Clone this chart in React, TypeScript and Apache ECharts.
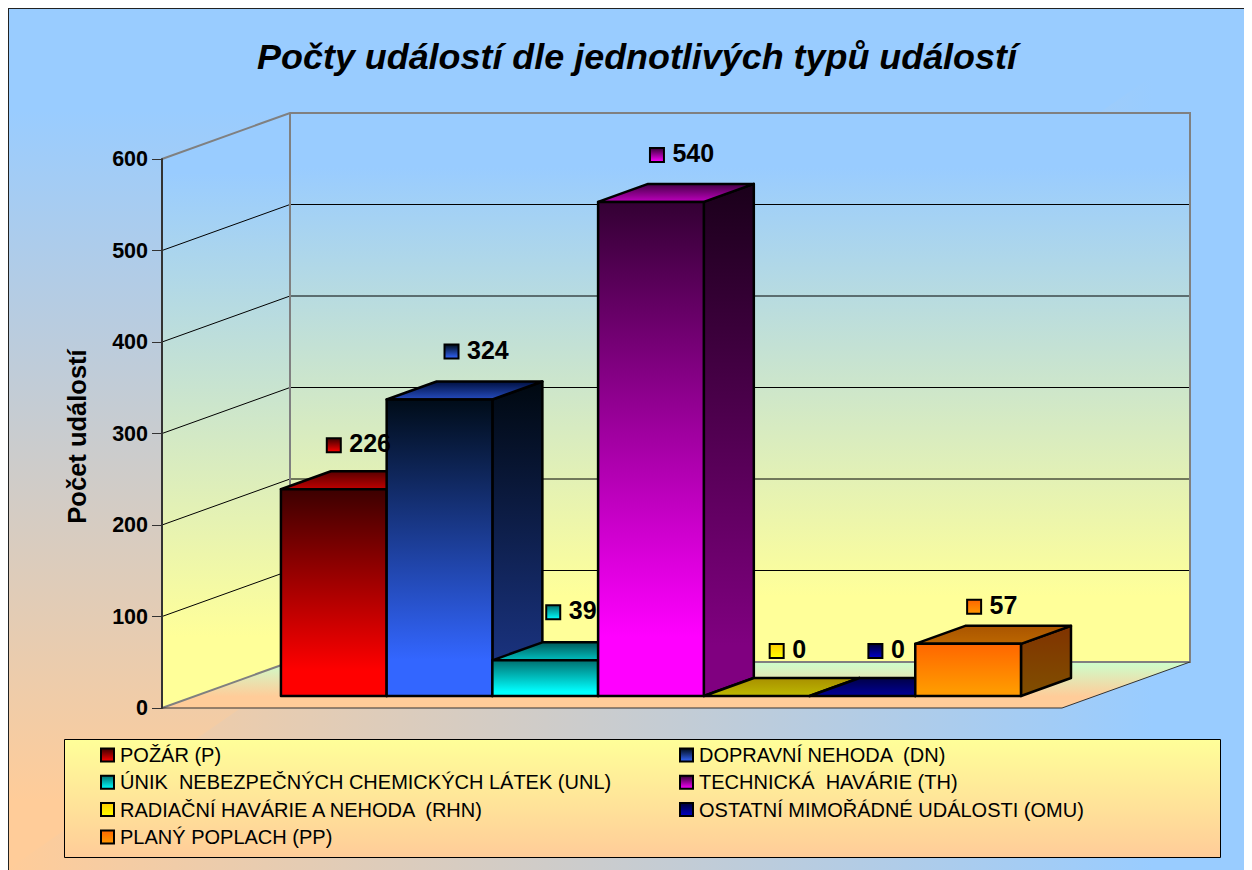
import React, { useEffect, useRef } from "react";
import * as echarts from "echarts";

const seriesNames = [
  "POŽÁR (P)",
  "DOPRAVNÍ NEHODA  (DN)",
  "ÚNIK  NEBEZPEČNÝCH CHEMICKÝCH LÁTEK (UNL)",
  "TECHNICKÁ  HAVÁRIE (TH)",
  "RADIAČNÍ HAVÁRIE A NEHODA  (RHN)",
  "OSTATNÍ MIMOŘÁDNÉ UDÁLOSTI (OMU)",
  "PLANÝ POPLACH (PP)",
];
const seriesValues = [226, 324, 39, 540, 0, 0, 57];
const yTicks = [100, 200, 300, 400, 500];

const frontColors = [
  ["#3c0000", "#ff0000"],
  ["#000c18", "#3366ff"],
  ["#007070", "#00ffff"],
  ["#330033", "#ff00ff"],
  ["#ffcc00", "#ffff00"],
  ["#000033", "#0000cc"],
  ["#ff6600", "#ff9900"],
];
const sideColors = [
  ["#1e0000", "#800000"],
  ["#000810", "#1a3380"],
  ["#003838", "#008080"],
  ["#1a001a", "#800080"],
  ["#806600", "#808000"],
  ["#00001a", "#000066"],
  ["#803300", "#804c00"],
];
const topColors = [
  ["#590000", "#bf0000"],
  ["#001040", "#264cbf"],
  ["#005959", "#00bfbf"],
  ["#440044", "#bf00bf"],
  ["#a89000", "#bdb800"],
  ["#000047", "#000099"],
  ["#aa5500", "#bb6600"],
];
// label nudges relative to each bar's centre/top (dx, dy of the key square)
const labelNudgeX = [0, 12, 8, 6, 20, 13, 6];
const labelNudgeY = [-44, -48, -48, -47, -45, -45, -37];

const OX = 7;
const WIDTH = 1245;
const HEIGHT = 863;
const GRID = { left: 162 - OX, top: 159 - OX, width: 900, height: 549 };
const X_MIN = -1.625;
const X_MAX = 6.888;
const Y_MAX = 600;
const WALL_DX = 128;
const WALL_DY = -46;
const BAR_DX = 50;
const BAR_DY = -18;
const BAR_LIFT = 12;
const FONT = '"Liberation Sans", Arial, sans-serif';

const vGrad = (stops: [number, string][]) =>
  new echarts.graphic.LinearGradient(0, 0, 0, 1, stops.map(([offset, color]) => ({ offset, color })));
const hGrad = (stops: [number, string][]) =>
  new echarts.graphic.LinearGradient(0, 0, 1, 0, stops.map(([offset, color]) => ({ offset, color })));

const BLUE = "#99ccff";
const PEACH = "#ffcc99";
const YELLOW = "#ffff99";

const wallFill = () => vGrad([[0, BLUE], [0.1, BLUE], [0.88, YELLOW], [1, YELLOW]]);

const renderWalls = (_p: any, api: any) => {
  const fl = api.coord([X_MIN, 0]);
  const fr = api.coord([X_MAX, 0]);
  const tl = api.coord([X_MIN, Y_MAX]);
  const back = (p: number[]) => [p[0] + WALL_DX, p[1] + WALL_DY];
  const bl = back(fl);
  const br = back(fr);
  const btl = back(tl);
  const btr = back(api.coord([X_MAX, Y_MAX]));
  const gray = { stroke: "#808080", lineWidth: 2, fill: "none" };
  const children: any[] = [
    { type: "polygon", shape: { points: [btl, btr, br, bl] }, style: { fill: wallFill() } },
    { type: "polygon", shape: { points: [tl, btl, bl, fl] }, style: { fill: wallFill() } },
    {
      type: "polygon",
      shape: { points: [fl, bl, br, fr] },
      style: { fill: vGrad([[0, "#ccffcc"], [0.75, PEACH], [1, PEACH]]) },
    },
  ];
  yTicks.forEach((t) => {
    const a = api.coord([X_MIN, t]);
    const b = back(a);
    const c = back(api.coord([X_MAX, t]));
    children.push({
      type: "polyline",
      shape: { points: [a, b, c] },
      style: { stroke: "#000", lineWidth: 1, fill: "none" },
    });
  });
  children.push(
    { type: "polyline", shape: { points: [tl, btl, btr, br, bl, btl] }, style: gray },
    { type: "line", shape: { x1: fl[0], y1: fl[1], x2: bl[0], y2: bl[1] }, style: gray },
    { type: "polyline", shape: { points: [fl, fr, br] }, style: { stroke: "#333", lineWidth: 1, fill: "none" } },
  );
  return { type: "group", children };
};

const makeBarRenderer = (s: number) => (_p: any, api: any) => {
  const i = api.value(0);
  const v = api.value(1);
  const w = api.size([1, 0])[0];
  const base = api.coord([i, 0]);
  const top = api.coord([i, v]);
  const x0 = base[0] - w / 2;
  const x1 = base[0] + w / 2;
  const yb = base[1] - BAR_LIFT;
  const yt = top[1] - BAR_LIFT;
  const line = { stroke: "#000", lineWidth: 2.5, lineJoin: "round" };
  const children: any[] = [
    {
      type: "polygon",
      shape: { points: [[x1, yb], [x1, yt], [x1 + BAR_DX, yt + BAR_DY], [x1 + BAR_DX, yb + BAR_DY]] },
      style: { ...line, fill: vGrad([[0, sideColors[s][0]], [0.9, sideColors[s][1]], [1, sideColors[s][1]]]) },
    },
    {
      type: "polygon",
      shape: { points: [[x0, yt], [x1, yt], [x1 + BAR_DX, yt + BAR_DY], [x0 + BAR_DX, yt + BAR_DY]] },
      style: { ...line, fill: vGrad([[0, topColors[s][0]], [1, topColors[s][1]]]) },
    },
  ];
  if (v > 0) {
    children.push({
      type: "polygon",
      shape: { points: [[x0, yt], [x1, yt], [x1, yb], [x0, yb]] },
      style: { ...line, fill: vGrad([[0, frontColors[s][0]], [0.88, frontColors[s][1]], [1, frontColors[s][1]]]) },
    });
  }
  return { type: "group", children };
};

const renderLabel = (_p: any, api: any) => {
  const s = api.value(0);
  const v = api.value(1);
  const top = api.coord([s, v]);
  const cx = top[0] + labelNudgeX[s];
  const cy = top[1] - BAR_LIFT + labelNudgeY[s];
  return {
    type: "group",
    children: [
      {
        type: "rect",
        shape: { x: cx - 7, y: cy - 7, width: 14, height: 14 },
        style: { stroke: "#000", lineWidth: 2, fill: vGrad([[0, frontColors[s][0]], [1, frontColors[s][1]]]) },
      },
      {
        type: "text",
        style: {
          x: cx + 15.5,
          y: cy - 2,
          text: String(v),
          fill: "#000",
          fontFamily: FONT,
          fontWeight: "bold",
          fontSize: 25,
          align: "left",
          verticalAlign: "middle",
        },
      },
    ],
  };
};

const legendItem = (s: number) => ({
  name: seriesNames[s],
  icon: "rect",
  itemStyle: {
    color: vGrad([[0, frontColors[s][0]], [1, frontColors[s][1]]]),
    borderColor: "#000",
    borderWidth: 2,
  },
});

const legendBase = {
  orient: "vertical",
  selectedMode: false,
  itemWidth: 13,
  itemHeight: 13,
  itemGap: 7.3,
  textStyle: { fontFamily: FONT, fontSize: 20, color: "#000", lineHeight: 20, padding: [0, 0, 0, 1] },
  padding: 0,
};

const buildOption = () => ({
  animation: false,
  title: {
    text: "Počty událostí dle jednotlivých typů událostí",
    left: 637 - OX,
    top: 39 - OX,
    textAlign: "center",
    textStyle: { fontFamily: FONT, fontSize: 35.9, fontWeight: "bold", fontStyle: "italic", color: "#000" },
    padding: 0,
  },
  grid: GRID,
  xAxis: { type: "value", min: X_MIN, max: X_MAX, show: false },
  yAxis: {
    type: "value",
    min: 0,
    max: Y_MAX,
    interval: 100,
    z: 5,
    name: "Počet událostí",
    nameLocation: "middle",
    nameGap: 72,
    nameRotate: 90,
    nameTextStyle: { fontFamily: FONT, fontSize: 25.5, fontWeight: "bold", color: "#000", padding: [0, 6, 0, 0] },
    axisLine: { show: true, onZero: false, lineStyle: { color: "#333", width: 2 } },
    axisTick: { show: true, length: 10, lineStyle: { color: "#333", width: 1 } },
    axisLabel: { fontFamily: FONT, fontSize: 21.5, fontWeight: "bold", color: "#000", margin: 14 },
    splitLine: { show: false },
  },
  legend: [
    { ...legendBase, left: 100 - OX, top: 745 - OX, data: [0, 2, 4, 6].map(legendItem) },
    { ...legendBase, left: 679 - OX, top: 745 - OX, data: [1, 3, 5].map(legendItem) },
  ],
  graphic: [
    { type: "rect", z: -5, shape: { x: 0, y: 0, width: WIDTH, height: HEIGHT }, style: { fill: vGrad([[0, BLUE], [0.12, BLUE], [0.92, PEACH], [1, PEACH]]) } },
    {
      type: "polygon",
      z: -4,
      shape: { points: [[0, HEIGHT], [WIDTH, 0], [WIDTH, HEIGHT]] },
      style: { fill: hGrad([[0, PEACH], [0.92, BLUE], [1, BLUE]]) },
    },
    { type: "line", z: 6, shape: { x1: 1, y1: 0, x2: 1, y2: HEIGHT }, style: { stroke: "#222", lineWidth: 2 } },
    { type: "line", z: 6, shape: { x1: 0, y1: 1, x2: WIDTH, y2: 1 }, style: { stroke: "#222", lineWidth: 2 } },
    {
      type: "rect",
      z: 1,
      shape: { x: 64.5 - OX, y: 739.5 - OX, width: 1156, height: 118 },
      style: { fill: vGrad([[0, YELLOW], [1, PEACH]]), stroke: "#000", lineWidth: 1 },
    },
  ],
  series: [
    {
      type: "custom",
      name: "walls",
      z: 1,
      silent: true,
      clip: false,
      renderItem: renderWalls,
      data: [[X_MIN, 0]],
      encode: { x: 0, y: 1 },
    },
    ...seriesNames.map((name, s) => ({
      type: "custom",
      name,
      z: 2,
      clip: false,
      renderItem: makeBarRenderer(s),
      data: [[s, seriesValues[s]]],
      encode: { x: 0, y: 1 },
    })),
    {
      type: "custom",
      name: "labels",
      z: 3,
      clip: false,
      renderItem: renderLabel,
      data: seriesValues.map((v, s) => [s, v]),
      encode: { x: 0, y: 1 },
    },
  ],
});

export default function App() {
  const ref = useRef<HTMLDivElement>(null);
  useEffect(() => {
    document.documentElement.style.overflow = "hidden";
    const chart = echarts.init(ref.current!, undefined, { renderer: "svg" });
    chart.setOption(buildOption() as any);
    return () => chart.dispose();
  }, []);
  return (
    <div
      ref={ref}
      style={{ width: WIDTH, height: HEIGHT, marginLeft: OX - 8, marginTop: OX - 8 }}
    />
  );
}
